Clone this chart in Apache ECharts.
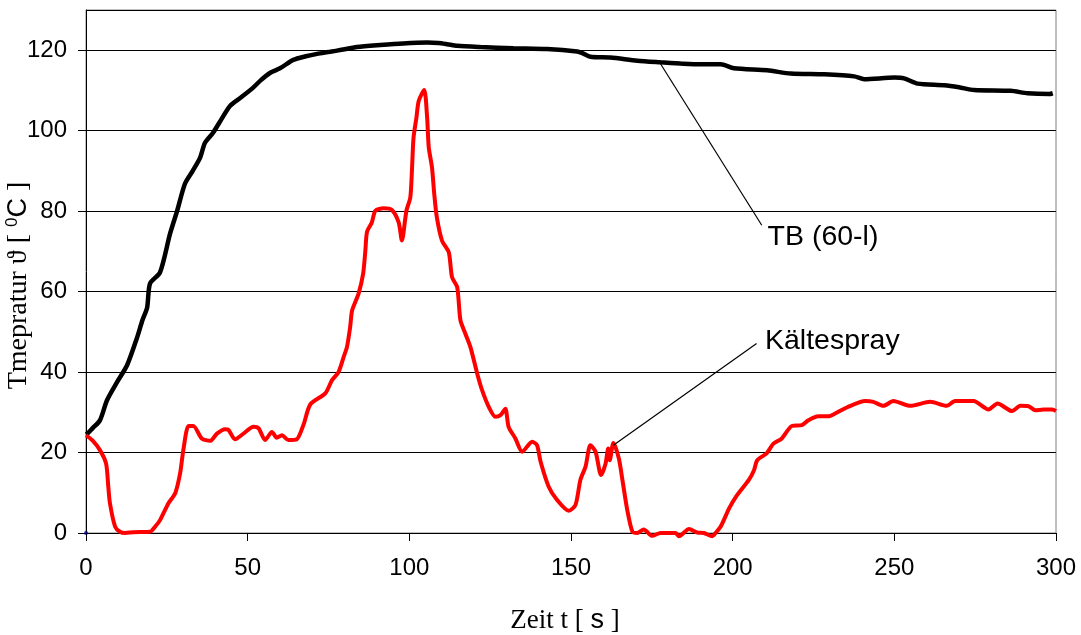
<!DOCTYPE html>
<html>
<head>
<meta charset="utf-8">
<script src="https://cdn.jsdelivr.net/npm/echarts@6/dist/echarts.min.js"></script>
<style>
  html, body { margin: 0; padding: 0; background: #fff; }
  #chart { width: 1081px; height: 635px; }
</style>
</head>
<body>
<div id="chart"></div>
<script>
// Zeitachse und Temperaturen der Messreihe TB (60-l)
const tbTime = [0, 0.6, 2, 4.3, 6.5, 9.6, 12.7, 15.8, 17.5, 18.9, 19.8, 22.9, 26, 28.2, 30.6, 33, 35.3, 36.8, 39.3, 42, 44.6, 48, 51.7, 54, 57, 60, 64.1, 68, 71.5, 75.5, 79, 83.8, 91, 98.1, 105.5, 109, 111.7, 114.8, 122, 132.2, 142.6, 151.9, 153.5, 156, 162.2, 170.5, 177.7, 183.9, 190, 196.3, 200.4, 210.7, 218, 228.3, 237.6, 240.7, 250, 253, 257.2, 265.4, 270, 274.7, 286, 291.2, 297.9, 299];
const tbTemp = [24.5, 24.8, 26, 28, 33, 37.5, 41.7, 48.6, 53, 56, 62, 64.8, 74.4, 80.1, 86.8, 90, 93.3, 97, 99.5, 103, 106.2, 108.3, 110.7, 112.5, 114.4, 115.5, 117.6, 118.5, 119.1, 119.6, 120.1, 120.8, 121.3, 121.7, 121.9, 121.8, 121.5, 121.1, 120.8, 120.5, 120.3, 119.7, 119.3, 118.4, 118.2, 117.4, 117, 116.7, 116.5, 116.5, 115.5, 115, 114.2, 114, 113.5, 112.8, 113.2, 113, 111.7, 111.3, 110.8, 110.1, 109.9, 109.3, 109.1, 109.3];

// Messreihe mit Kältespray
const ksTime = [0, 2, 4.3, 6.2, 6.9, 7.4, 9, 10.5, 12.1, 14.6, 19.8, 21.3, 22.9, 25.5, 27.6, 29.1, 30.1, 31.7, 33.2, 35.8, 38.4, 40.5, 43, 44.1, 46.1, 48.7, 51.8, 53.4, 55.4, 57.5, 59, 60.6, 62.6, 65.2, 67.3, 69.4, 74, 76.1, 78.1, 79.7, 80.7, 81.7, 82.3, 84.3, 85.7, 86.4, 86.9, 88.4, 89.5, 92, 94.6, 96.7, 97.7, 99.1, 100.3, 100.8, 101.3, 102.2, 102.9, 104.6, 105.5, 106, 107, 107.7, 108.5, 110.1, 112.2, 113.2, 114.8, 115.8, 117.3, 118.9, 121, 122.5, 124.6, 126.6, 128.2, 129.7, 130.7, 132.8, 134.9, 138, 139.5, 140.6, 143.1, 145.7, 149.3, 151.4, 152.9, 154.5, 156, 157.6, 159.3, 160.7, 161.5, 162, 163.1, 164.8, 165.9, 167.4, 169, 170.5, 172.5, 175.1, 177.7, 182.3, 183.4, 186.5, 189.1, 191.1, 193.7, 194.7, 196.3, 198.9, 201, 205, 206.6, 207.6, 210.5, 212.6, 215.2, 218.3, 221.4, 223.4, 226.5, 229.6, 231.7, 235.3, 241, 243.5, 246.6, 249.7, 254.9, 261.1, 266.2, 268.8, 274.5, 279.1, 281.9, 286.4, 289, 291.5, 293.6, 296.2, 298.8, 300];
const ksTemp = [24.3, 23, 20.6, 17.3, 11.5, 7.4, 1.6, 0.3, 0, 0.2, 0.3, 1.5, 3.2, 7.4, 9.9, 14.8, 20.6, 26.6, 26.6, 23.5, 22.9, 24.7, 25.8, 25.6, 23.3, 24.7, 26.4, 26, 23.1, 25.1, 23.7, 24.3, 23.1, 23.3, 27, 32, 34.7, 38, 40, 43.8, 46.2, 51.2, 55.3, 59.5, 64.4, 70.2, 74.8, 77.2, 80.1, 80.7, 80.3, 77.2, 72.7, 80.1, 83.4, 90, 98.3, 103.3, 107.4, 110.1, 103.3, 95.9, 90.9, 84.3, 78.5, 72.7, 69.8, 63.6, 61.1, 52.9, 49.6, 46.2, 39.6, 35.5, 31.3, 28.9, 29.3, 30.9, 26.4, 23.5, 20.2, 22.7, 21.8, 17.7, 11.5, 8.2, 5.5, 7, 13.2, 16.5, 21.8, 20.2, 14.4, 17.3, 21, 18.1, 22.4, 18.5, 13.2, 5.7, 0.3, 0, 0.9, -0.7, 0, 0, -0.8, 1, 0.1, 0, -0.8, 0, 1.6, 6.1, 9, 13.2, 15.6, 18.1, 19.8, 22.2, 23.5, 26.6, 26.8, 28, 29, 29, 29.7, 31.2, 32.8, 32.6, 31.6, 32.8, 31.6, 32.6, 31.6, 32.8, 32.8, 30.7, 32.2, 30.3, 31.6, 31.5, 30.5, 30.7, 30.7, 30.3];

// Achsenteilung
const xTicks = [0, 50, 100, 150, 200, 250, 300];
const yTicks = [0, 20, 40, 60, 80, 100, 120];

// Beschriftungen mit Hinweislinien (Anfang, Ende, Textanker) in Datenkoordinaten
const tbLeader = [[177, 117.5], [209, 76.5]];
const tbLabelAt = [210.8, 73.5];
const ksLeader = [[163.1, 21.8], [207.4, 47.1]];
const ksLabelAt = [210.0, 47.6];

const zip = (a, b) => a.map((v, i) => [v, b[i]]);

const sans = 'Liberation Sans, Arial, sans-serif';
const serif = 'Liberation Serif, Times New Roman, serif';

function leader(points, labelAt, text) {
  return {
    markLine: {
      silent: true,
      symbol: ['none', 'none'],
      animation: false,
      label: { show: false },
      lineStyle: { color: '#000', width: 1.2, type: 'solid' },
      data: [[{ coord: points[0] }, { coord: points[1] }]]
    },
    markPoint: {
      silent: true,
      animation: false,
      symbol: 'circle',
      symbolSize: 0,
      data: [{ coord: labelAt, value: text }],
      label: {
        show: true,
        position: 'right',
        distance: 0,
        formatter: text,
        color: '#000',
        fontFamily: sans,
        fontSize: 28.5
      }
    }
  };
}

const chart = echarts.init(document.getElementById('chart'), null, { renderer: 'canvas' });

chart.setOption({
  animation: false,
  backgroundColor: '#fff',
  grid: {
    left: 86, right: 25, top: 10, bottom: 102,
    containLabel: false,
    outerBoundsMode: 'none',
    show: true, borderColor: '#808080', borderWidth: 1, backgroundColor: '#fff'
  },
  xAxis: {
    type: 'value',
    min: xTicks[0], max: xTicks[xTicks.length - 1], interval: xTicks[1] - xTicks[0],
    axisLine: { show: true, onZero: false, lineStyle: { color: '#000', width: 1 } },
    axisTick: { show: true, inside: false, length: 8, lineStyle: { color: '#000' } },
    splitLine: { show: false },
    axisLabel: { color: '#000', fontFamily: sans, fontSize: 24, margin: 23 },
    name: '{t|Zeit t [ }{s|s}{t| ]}',
    nameLocation: 'middle',
    nameGap: 74,
    nameMoveOverlap: false,
    nameTextStyle: {
      padding: [0, 12, 0, 0],
      rich: {
        t: { fontFamily: serif, fontSize: 27, color: '#000' },
        s: { fontFamily: sans, fontSize: 27, color: '#000' }
      }
    }
  },
  yAxis: {
    type: 'value',
    min: 0, max: 130, interval: yTicks[1] - yTicks[0],
    axisLine: { show: true, onZero: false, lineStyle: { color: '#000', width: 1 } },
    axisTick: { show: true, inside: false, length: 8, lineStyle: { color: '#000' } },
    splitLine: { show: true, lineStyle: { color: '#000', width: 1 } },
    axisLabel: {
      color: '#000', fontFamily: sans, fontSize: 24, margin: 19,
      showMaxLabel: false,
      formatter: v => (yTicks.indexOf(v) >= 0 ? String(v) : '')
    },
    name: '{t|Tmepratur ϑ [ }{sup|0}{c|C}{t| ]}',
    nameLocation: 'middle',
    nameRotate: 90,
    nameGap: 52,
    nameMoveOverlap: false,
    nameTextStyle: {
      padding: [0, 28, 0, 0],
      rich: {
        t: { fontFamily: serif, fontSize: 28, color: '#000', lineHeight: 30 },
        sup: { fontFamily: sans, fontSize: 17, color: '#000', verticalAlign: 'top', lineHeight: 30 },
        c: { fontFamily: sans, fontSize: 27, color: '#000', lineHeight: 30 }
      }
    }
  },
  series: [
    Object.assign({
      name: 'TB (60-l)',
      type: 'line',
      data: zip(tbTime, tbTemp),
      showSymbol: false,
      smooth: 0.25,
      clip: false,
      lineStyle: { color: '#000', width: 4.5 },
      itemStyle: { color: '#000' },
      z: 3
    }, leader(tbLeader, tbLabelAt, 'TB (60-l)')),
    Object.assign({
      name: 'Kältespray',
      type: 'line',
      data: zip(ksTime, ksTemp),
      showSymbol: false,
      smooth: 0.25,
      clip: false,
      lineStyle: { color: '#ff0000', width: 4 },
      itemStyle: { color: '#ff0000' },
      z: 4
    }, leader(ksLeader, ksLabelAt, 'Kältespray')),
    {
      name: 'Ursprung',
      type: 'scatter',
      data: [[0, 0]],
      symbolSize: 4,
      itemStyle: { color: '#000080' },
      z: 5
    }
  ]
});
</script>
</body>
</html>
